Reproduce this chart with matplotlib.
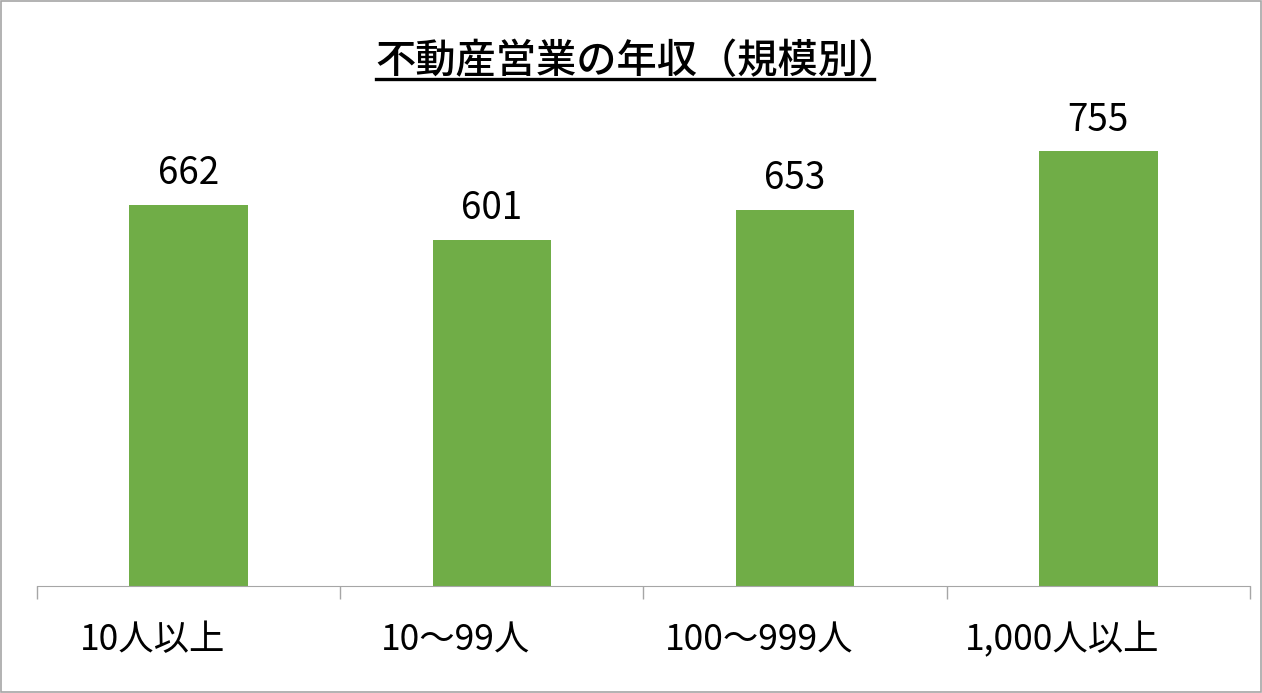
import matplotlib
matplotlib.use("Agg")
import matplotlib.pyplot as plt
from matplotlib.patches import Rectangle
from matplotlib.lines import Line2D
from matplotlib.transforms import ScaledTranslation

plt.rcParams['font.family'] = ['Noto Sans CJK JP', 'DejaVu Sans']

categories = ['10人以上', '10〜99人', '100〜999人', '1,000人以上']
salaries = [662, 601, 653, 755]
title = '不動産営業の年収（規模別）'

fig = plt.figure(figsize=(12.62, 6.93), dpi=100)
ax = fig.add_axes([0.0293, 0.1544, 0.9612, 0.7475])

x = list(range(len(categories)))
bars = ax.bar(x, salaries, width=0.39, color='#70AD47')
for b, v in zip(bars, salaries):
    ax.annotate(str(v), (b.get_x() + b.get_width() / 2, v), xytext=(0, 8.5),
                textcoords='offset points', ha='center', va='bottom', fontsize=26.5)

ax.set_xlim(-0.5, len(categories) - 0.5)
ax.set_ylim(0, 900)
ax.set_yticks([])
ax.set_xticks(x)
ax.set_xticklabels(categories, fontsize=25.5)
ax.tick_params(axis='x', which='major', length=0, pad=26)
# labels sit a little left of the bar centres, as in the original
shift = ScaledTranslation(-0.36, 0, fig.dpi_scale_trans)
for lab in ax.get_xticklabels():
    lab.set_transform(lab.get_transform() + shift)
ax.set_xticks([i - 0.5 for i in range(len(categories) + 1)], minor=True)
ax.tick_params(axis='x', which='minor', length=9, color='#A6A6A6', width=1)
for s in ['top', 'right', 'left']:
    ax.spines[s].set_visible(False)
ax.spines['bottom'].set_color('#A6A6A6')

t = fig.text(0.505, 0.911, title, ha='center', va='center', fontsize=29,
             weight='medium')

# underline under the title
fig.canvas.draw()
bb = t.get_window_extent().transformed(fig.transFigure.inverted())
fig.add_artist(Line2D([bb.x0, bb.x1 - 0.02], [bb.y0 + 0.004, bb.y0 + 0.004],
                      transform=fig.transFigure, color='black', lw=2.4))

fig.add_artist(Rectangle((0.001, 0.001), 0.998, 0.998, transform=fig.transFigure,
                         fill=False, edgecolor='#A6A6A6', lw=1.2))

fig.savefig('out.png', dpi=100)
